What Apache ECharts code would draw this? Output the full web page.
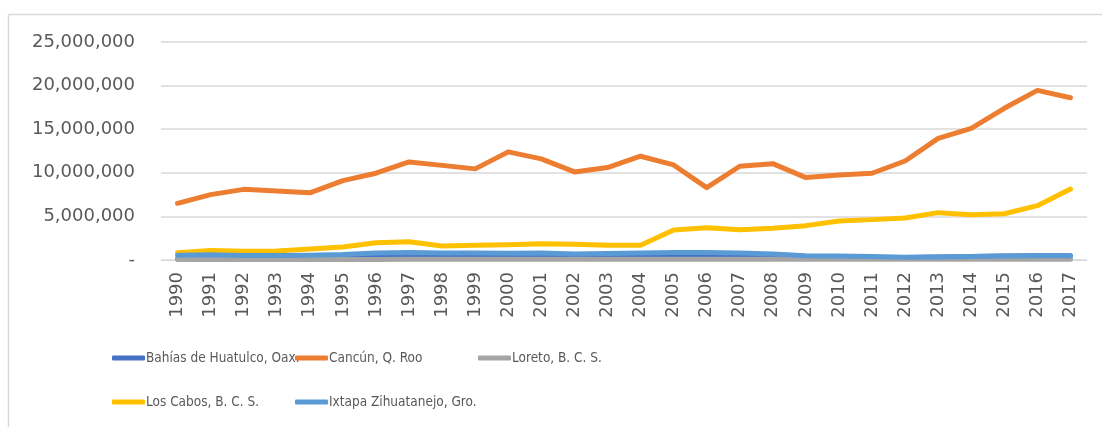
<!DOCTYPE html>
<html>
<head>
<meta charset="utf-8">
<script src="https://cdn.jsdelivr.net/npm/echarts@6/dist/echarts.min.js"></script>
<style>
html,body{margin:0;padding:0;background:#fff;}
#chart{width:1102px;height:427px;}
</style>
</head>
<body>
<div id="chart"></div>
<script>
const years = ['1990','1991','1992','1993','1994','1995','1996','1997','1998','1999','2000','2001','2002','2003','2004','2005','2006','2007','2008','2009','2010','2011','2012','2013','2014','2015','2016','2017'];
const yTicks = [0, 5000000, 10000000, 15000000, 20000000, 25000000];

const huatulco = [150000,200000,200000,250000,250000,300000,350000,400000,400000,400000,400000,400000,350000,350000,400000,400000,400000,400000,350000,300000,300000,300000,300000,350000,400000,450000,500000,500000];
const cancun = [6500000,7500000,8100000,7900000,7700000,9100000,9950000,11250000,10850000,10450000,12400000,11600000,10100000,10600000,11900000,10900000,8300000,10750000,11050000,9450000,9750000,9950000,11350000,13950000,15100000,17400000,19450000,18600000];
const loreto = [60000,60000,60000,60000,60000,70000,70000,80000,80000,80000,80000,80000,80000,80000,80000,80000,80000,80000,80000,80000,80000,80000,80000,90000,90000,90000,100000,100000];
const losCabos = [840000,1080000,1000000,1030000,1260000,1490000,1990000,2100000,1600000,1680000,1760000,1870000,1800000,1680000,1680000,3440000,3700000,3480000,3630000,3940000,4470000,4630000,4820000,5430000,5200000,5310000,6230000,8140000];
const ixtapa = [550000,600000,520000,520000,550000,620000,800000,850000,800000,800000,760000,800000,700000,750000,800000,850000,850000,800000,700000,500000,450000,400000,320000,350000,400000,450000,500000,500000];

const names = ['Bahías de Huatulco, Oax.','Cancún, Q. Roo','Loreto, B. C. S.','Los Cabos, B. C. S.','Ixtapa Zihuatanejo, Gro.'];
const colors = ['#4472C4','#ED7D31','#A5A5A5','#FFC000','#5B9BD5'];
const values = [huatulco, cancun, loreto, losCabos, ixtapa];

const legendPos = [[112,351],[295,351],[478,351],[112,395],[295,395]];

const chart = echarts.init(document.getElementById('chart'));
const fmt = v => v === 0 ? '-' : v.toString().replace(/\B(?=(\d{3})+(?!\d))/g, ',');

chart.setOption({
  animation: false,
  backgroundColor: '#fff',
  graphic: [
    {type:'line', shape:{x1:8.5,y1:14.5,x2:1102,y2:14.5}, style:{stroke:'#d9d9d9', lineWidth:1.5}},
    {type:'line', shape:{x1:8.5,y1:14.5,x2:8.5,y2:427}, style:{stroke:'#d9d9d9', lineWidth:1.5}}
  ],
  grid: {left:161, right:15, top:42, bottom:167, containLabel:false},
  legend: names.map((n,i)=>({
    data:[n], left:legendPos[i][0], top:legendPos[i][1],
    icon:'roundRect', itemWidth:33, itemHeight:5, itemGap:0,
    padding:0,
    textStyle:{fontFamily:'"Liberation Sans Narrow","DejaVu Sans Condensed",sans-serif', fontSize:13.5, color:'#595959', padding:[0,0,0,-4]}
  })),
  xAxis: {
    type:'category', data:years, boundaryGap:true,
    axisLine:{lineStyle:{color:'#d9d9d9', width:1}},
    axisTick:{show:false},
    axisLabel:{rotate:90, margin:12, interval:0, fontFamily:'"DejaVu Sans",sans-serif', fontSize:18, color:'#595959'}
  },
  yAxis: {
    type:'value', min:yTicks[0], max:yTicks[yTicks.length-1], interval:yTicks[1]-yTicks[0],
    axisLine:{show:false}, axisTick:{show:false},
    splitLine:{lineStyle:{color:'#d9d9d9', width:1.5}},
    axisLabel:{margin:26, formatter:fmt, fontFamily:'"DejaVu Sans",sans-serif', fontSize:18, color:'#595959'}
  },
  series: values.map((d,i)=>({
    name:names[i], type:'line', data:d, symbol:'none', showSymbol:false,
    color:colors[i],
    lineStyle:{width:5, color:colors[i], cap:'round', join:'round'},
    itemStyle:{color:colors[i]},
    z: 2+i
  }))
});
</script>
</body>
</html>
